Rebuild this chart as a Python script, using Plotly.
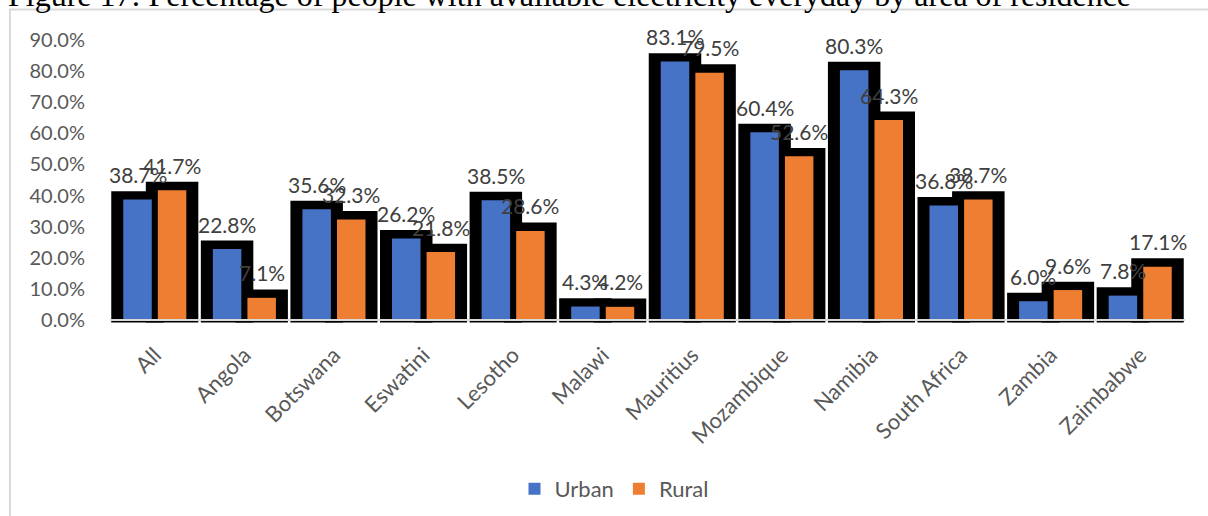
import plotly.graph_objects as go

categories = ["All", "Angola", "Botswana", "Eswatini", "Lesotho", "Malawi", "Mauritius",
              "Mozambique", "Namibia", "South Africa", "Zambia", "Zaimbabwe"]
urban = [38.7, 22.8, 35.6, 26.2, 38.5, 4.3, 83.1, 60.4, 80.3, 36.8, 6.0, 7.8]
rural = [41.7, 7.1, 32.3, 21.8, 28.6, 4.2, 79.5, 52.6, 64.3, 38.7, 9.6, 17.1]
y_ticks = [0, 10, 20, 30, 40, 50, 60, 70, 80, 90]
title_text = "Figure 17: Percentage of people with available electricity everyday by area of residence"

W, H = 1208, 516
ML, MR, MT, MB = 110, 23, 37, 193
plot_w = W - ML - MR
plot_h = H - MT - MB
YMIN, YMAX = -1.0, 91.0

OFF = 0.193          # bar centre offset from category centre
BW = 0.318           # bar width (category units)
SPAD_X = 0.268       # extra shadow width
SPAD_Y = 2.7         # shadow extends above bar (percent units)
SBASE = -0.8

BLUE = "#4673C6"
ORANGE = "#EE7E32"
FONT = "Lato, Open Sans, sans-serif"

xs = list(range(len(categories)))
xu = [i - OFF for i in xs]
xr = [i + OFF for i in xs]

fig = go.Figure()
# shadows
for xpos, vals in ((xu, urban), (xr, rural)):
    fig.add_trace(go.Bar(
        x=xpos, y=[v + SPAD_Y - SBASE for v in vals], base=[SBASE] * len(vals),
        width=[BW + SPAD_X] * len(vals), marker=dict(color="black", line=dict(width=0)),
        showlegend=False, hoverinfo="skip"))
# bars
fig.add_trace(go.Bar(x=xu, y=urban, width=[BW] * len(urban), name="Urban",
                     marker=dict(color=BLUE, line=dict(width=0))))
fig.add_trace(go.Bar(x=xr, y=rural, width=[BW] * len(rural), name="Rural",
                     marker=dict(color=ORANGE, line=dict(width=0))))

annotations = []
for xpos, vals in ((xu, urban), (xr, rural)):
    for x, v in zip(xpos, vals):
        annotations.append(dict(x=x, y=v, xref="x", yref="y", text=f"{v:.1f}%",
                                showarrow=False, yshift=25, yanchor="middle",
                                font=dict(family=FONT, size=21, color="#404040")))

annotations.append(dict(x=(6 - ML) / plot_w, y=(plot_h + MT + 5) / plot_h, xref="paper", yref="paper",
                        text=title_text, showarrow=False, xanchor="left", yanchor="middle",
                        font=dict(family="Liberation Serif, Times New Roman, serif", size=32, color="black")))

shapes = [
    dict(type="line", xref="paper", yref="y", x0=0, x1=1, y0=0, y1=0,
         line=dict(color="#D9D9D9", width=2), layer="above"),
    dict(type="rect", xref="paper", yref="paper",
         x0=(10 - ML) / plot_w, x1=1.5, y0=-3, y1=(plot_h + MT - 9.5) / plot_h,
         line=dict(color="#D9D9D9", width=2), layer="below"),
]

fig.update_layout(
    width=W, height=H, margin=dict(l=ML, r=MR, t=MT, b=MB, pad=0, autoexpand=False),
    barmode="overlay", plot_bgcolor="white", paper_bgcolor="white",
    annotations=annotations, shapes=shapes,
    legend=dict(orientation="h", x=(614 - ML) / plot_w, xanchor="center",
                y=(plot_h + MT - 489) / plot_h, yanchor="middle",
                font=dict(family=FONT, size=22, color="#595959"), traceorder="normal"),
    xaxis=dict(range=[-0.5, len(categories) - 0.5], tickvals=xs, ticktext=categories,
               tickangle=-45, showgrid=False, zeroline=False, showline=False, ticks="",
               ticklabelstandoff=14, automargin=False,
               tickfont=dict(family=FONT, size=22, color="#595959")),
    yaxis=dict(range=[YMIN, YMAX], tickvals=y_ticks, ticktext=[f"{t:.1f}%" for t in y_ticks],
               showgrid=False, zeroline=False, showline=False, ticks="", ticklabelstandoff=24,
               automargin=False,
               tickfont=dict(family=FONT, size=20, color="#595959")),
)

fig.write_html("out.html")
